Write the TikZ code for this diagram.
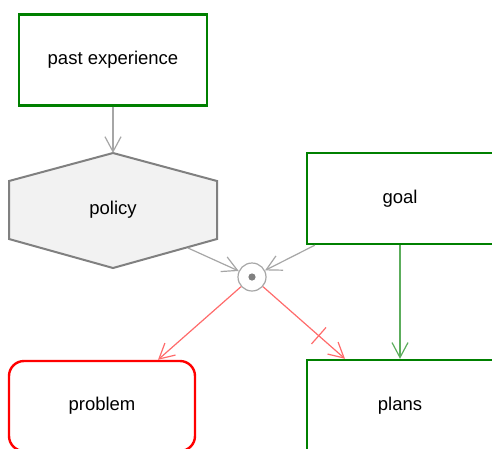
\documentclass[tikz,border=0pt]{standalone}
\usepackage{fontspec}
\setmainfont{Liberation Sans}
\usetikzlibrary{positioning,arrows.meta}

\definecolor{boxgreen}{HTML}{008000}
\definecolor{linkgray}{HTML}{A6A6A6}
\definecolor{hexgray}{HTML}{808080}
\definecolor{hexfill}{HTML}{F2F2F2}
\definecolor{linkred}{HTML}{FF6B6B}
\definecolor{linkgreen}{HTML}{5CAD5C}

\tikzset{
  greenbox/.style={draw=boxgreen, line width=2.4pt, fill=white, minimum width=186pt, minimum height=91pt, inner sep=0pt},
  redbox/.style={draw=red, line width=2.4pt, fill=white, rounded corners=15pt, minimum width=186pt, minimum height=90pt, inner sep=0pt},
  link/.style={line width=1.2pt, -{Straight Barb[length=15pt,width=16pt]}},
  tickmark/.style={draw, line width=1.2pt, inner sep=0pt, minimum width=0pt, minimum height=22pt}
}

\begin{document}
\begin{tikzpicture}[x=1pt, y=-1pt, font=\fontsize{18.5}{21}\selectfont]
\useasboundingbox (0,0) rectangle (492,448);

	\node [greenbox, minimum width=188pt] (past) at (113,60) {past experience};
	\draw [hexgray, fill=hexfill, line width=2pt] (113,153) -- (217,181) -- (217,239) -- (113,268) -- (9,239) -- (9,181) -- cycle;
	\node (policy) at (113,210) {policy};
	\coordinate (policytop) at (113,153);
	\coordinate (policyout) at (188,248);
	\node [greenbox] (goal) at (400,198.5) {goal};
	\node [circle, draw=linkgray, line width=1.2pt, fill=white, minimum size=28pt, inner sep=0pt] (jn) at (252,277) {};
	\fill [hexgray] (jn) circle (3.6pt);
	\node [redbox] (problem) at (102,406) {problem};
	\node [greenbox, below=113.6pt of goal] (plans) {plans};

	\draw [link, linkgray] (past) -- (policytop);
	\draw [link, linkgray] (policyout) -- (jn);
	\draw [link, linkgray] ([xshift=9pt]goal.south west) -- (jn);
	\draw [link, linkred] (jn) -- ([xshift=56pt]problem.north);
	\draw [link, linkred] (jn) -- node [tickmark, sloped, pos=0.68] {} ([xshift=-55pt]plans.north);
	\draw [link, linkgreen] (goal) -- (plans);

\end{tikzpicture}
\end{document}
